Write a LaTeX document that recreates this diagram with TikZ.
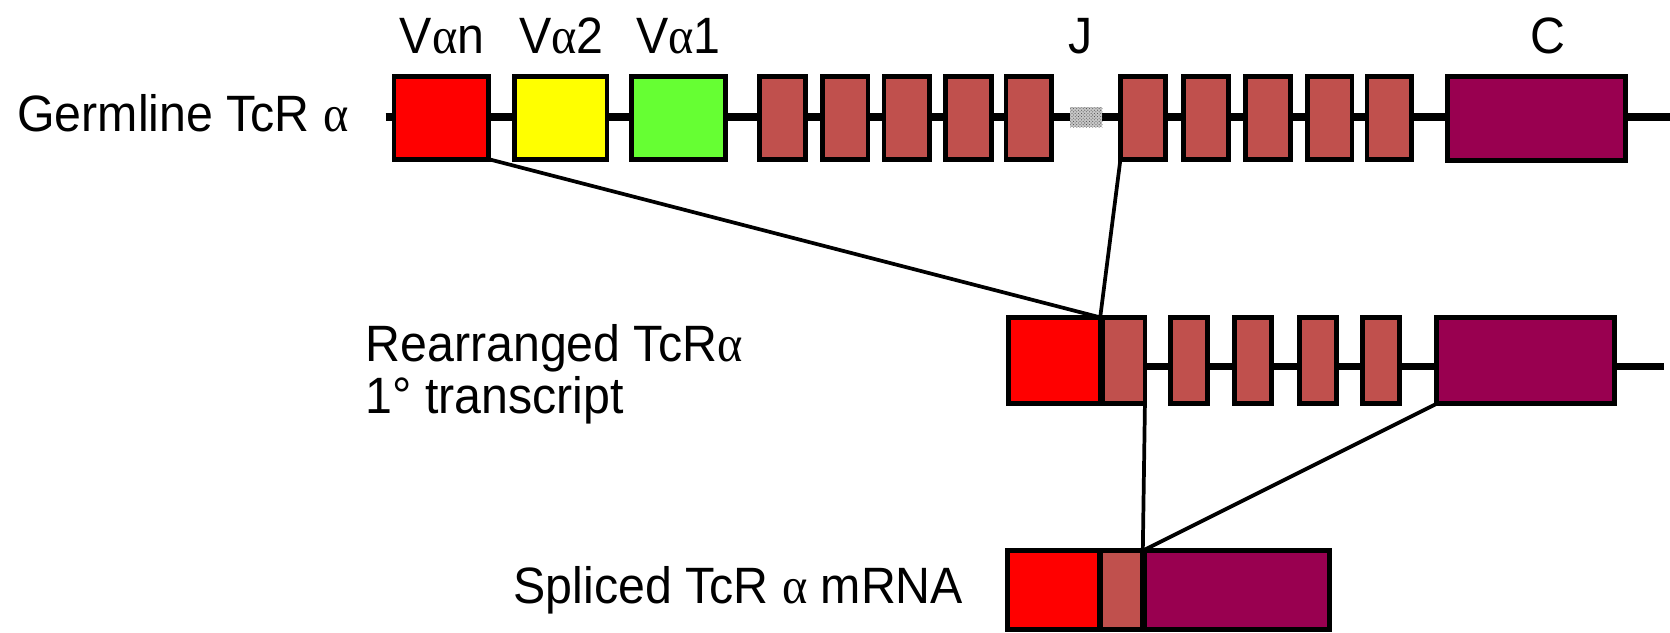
\documentclass[tikz,border=0pt]{standalone}
\usepackage{fontspec}
\usetikzlibrary{patterns}
\setmainfont{Liberation Sans}
\newfontfamily\grk{Liberation Serif}
\newcommand\al{{\grk α}}
\newcommand\tx[1]{\scalebox{0.945}[1]{#1}}
\definecolor{cred}{HTML}{FF0000}
\definecolor{cyel}{HTML}{FFFF00}
\definecolor{cgrn}{HTML}{66FF33}
\definecolor{cbrn}{HTML}{C0504D}
\definecolor{cpur}{HTML}{990050}
\tikzset{
  box/.style={draw=black, line width=4.5pt, inner sep=0pt, outer sep=0pt},
  lbl/.style={font=\fontsize{48}{54}\selectfont, inner sep=0pt},
  dna/.style={line width=7pt},
  conn/.style={line width=3.5pt},
}
\begin{document}
\begin{tikzpicture}[x=1pt,y=-1pt]
\useasboundingbox (0,0) rectangle (1568,594);
% germline
\coordinate (g0) at (362,110);
\coordinate (g1) at (1568,110);
\draw[dna] (g0) -- (g1);
\node[box, fill=cred, minimum width=89pt, minimum height=78pt] (van) at (414.5,110.5) {};
\node[box, fill=cyel, minimum width=87pt, minimum height=78pt] (va2) at (526.5,110.5) {};
\node[box, fill=cgrn, minimum width=88pt, minimum height=78pt] (va1) at (637,110.5) {};
\foreach \x/\n in {734.5/a1,793.5/a2,851.5/a3,909.5/a4,966/a5}
  \node[box, fill=cbrn, minimum width=43pt, minimum height=78pt] (\n) at (\x,110.5) {};
\node[fill=black!22, postaction={pattern=crosshatch dots, pattern color=black!70}, minimum width=30pt, minimum height=19pt, inner sep=0pt] (dot) at (1020,110) {};
\foreach \x/\n in {1073/j1,1132.5/j2,1190.5/j3,1248.5/j4,1304.5/j5}
  \node[box, fill=cbrn, minimum width=42pt, minimum height=78pt] (\n) at (\x,110.5) {};
\node[box, fill=cpur, minimum width=167pt, minimum height=79pt] (gc) at (1442.5,111.5) {};
% labels
\node[lbl, anchor=base] (tvan) at (415,50) {\tx{V\al n}};
\node[lbl, anchor=base] (tva2) at (527,50) {\tx{V\al 2}};
\node[lbl, anchor=base] (tva1) at (637,50) {\tx{V\al 1}};
\node[lbl, anchor=base] (tj) at (1015,50) {\tx{J}};
\node[lbl, anchor=base] (tc) at (1453,50) {\tx{C}};
\node[lbl, anchor=base west] (tgerm) at (16,123) {\tx{Germline TcR \al}};
% rearranged
\coordinate (r0) at (1075,344);
\coordinate (r1) at (1562,344);
\draw[dna] (r0) -- (r1);
\node[box, fill=cred, minimum width=86pt, minimum height=81pt] (rv) at (990,338.5) {};
\node[box, fill=cbrn, minimum width=40pt, minimum height=81pt] (rj) at (1055,338.5) {};
\foreach \x/\n in {1116.5/r2,1176.5/r3,1237.5/r4,1296.5/r5}
  \node[box, fill=cbrn, minimum width=35pt, minimum height=81pt] (\n) at (\x,338.5) {};
\node[box, fill=cpur, minimum width=167pt, minimum height=81pt] (rc) at (1432.5,338.5) {};
\node[lbl, anchor=base west] (trea) at (343,339) {\tx{Rearranged TcR\al}};
\node[lbl, anchor=base west] (ttr) at (343,388) {\tx{1° transcript}};
% spliced
\node[box, fill=cred, minimum width=86pt, minimum height=74pt] (sv) at (989,554) {};
\node[box, fill=cbrn, minimum width=40pt, minimum height=74pt] (sj) at (1053,554) {};
\node[box, fill=cpur, minimum width=173pt, minimum height=74pt] (sc) at (1161.5,554) {};
\node[lbl, anchor=base west] (tspl) at (482,567) {\tx{Spliced TcR \al{} mRNA}};
% connectors
\draw[conn] (van.south east) -- (rv.north east);
\draw[conn] (j1.south west) -- (rv.north east);
\draw[conn] (rj.south east) -- (sj.north east);
\draw[conn] (rc.south west) -- (sj.north east);
\end{tikzpicture}
\end{document}
